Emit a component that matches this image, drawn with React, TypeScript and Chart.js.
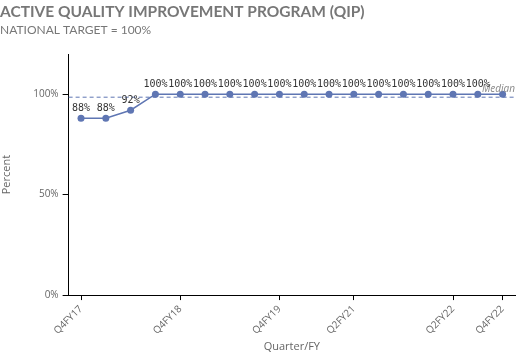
import React, { useEffect, useRef } from "react";
import { Chart, registerables } from "chart.js";
Chart.register(...registerables);

const quarters = [
  "Q4FY17", "Q1FY18", "Q2FY18", "Q3FY18", "Q4FY18", "Q1FY19", "Q2FY19", "Q3FY19", "Q4FY19",
  "Q4FY20", "Q1FY21", "Q2FY21", "Q3FY21", "Q4FY21", "Q1FY22", "Q2FY22", "Q3FY22", "Q4FY22",
];
const percentValues = [88, 88, 92, 100, 100, 100, 100, 100, 100, 100, 100, 100, 100, 100, 100, 100, 100, 100];
const shownTickLabels = ["Q4FY17", "Q4FY18", "Q4FY19", "Q2FY21", "Q2FY22", "Q4FY22"];
const yTickValues = [0, 50, 100];
const medianValue = 98.5;

const LINE_COLOR = "#5f76b3";

const overlayPlugin = {
  id: "overlay",
  afterDatasetsDraw(chart: any) {
    const ctx = chart.ctx;
    const { left, right } = chart.chartArea;
    const y = chart.scales.y.getPixelForValue(medianValue);
    ctx.save();
    ctx.strokeStyle = LINE_COLOR;
    ctx.lineWidth = 1;
    ctx.setLineDash([4, 3]);
    ctx.beginPath();
    ctx.moveTo(left, y);
    ctx.lineTo(right, y);
    ctx.stroke();
    ctx.setLineDash([]);
    ctx.font = "italic 10px 'Open Sans', sans-serif";
    ctx.fillStyle = "#888";
    ctx.textAlign = "right";
    ctx.textBaseline = "bottom";
    ctx.fillText("Median", right, y - 3);

    const meta = chart.getDatasetMeta(0);
    ctx.font = "10px 'DejaVu Sans Mono', monospace";
    ctx.fillStyle = "#333";
    ctx.textAlign = "center";
    ctx.textBaseline = "bottom";
    meta.data.forEach((pt: any, i: number) => {
      if (i === meta.data.length - 1) return;
      ctx.fillText(percentValues[i] + "%", pt.x, pt.y - 5);
    });
    ctx.restore();
  },
};

export default function App() {
  const ref = useRef<HTMLCanvasElement>(null);
  useEffect(() => {
    const chart = new Chart(ref.current!, {
      type: "line",
      data: {
        labels: quarters,
        datasets: [
          {
            data: percentValues,
            borderColor: LINE_COLOR,
            backgroundColor: LINE_COLOR,
            borderWidth: 1.5,
            pointRadius: 3.5,
            pointBackgroundColor: LINE_COLOR,
            pointBorderWidth: 0,
            tension: 0,
          },
        ],
      },
      plugins: [overlayPlugin],
      options: {
        animation: false,
        responsive: false,
        layout: { padding: { left: 0, right: 5, top: 0, bottom: 7 } },
        plugins: {
          legend: { display: false },
          tooltip: { enabled: false },
          title: {
            display: true,
            text: "ACTIVE QUALITY IMPROVEMENT PROGRAM (QIP)",
            align: "start",
            color: "#777",
            font: { family: "Lato, sans-serif", size: 15.5, weight: "bold" },
            padding: { top: 3, bottom: 1 },
          },
          subtitle: {
            display: true,
            text: "NATIONAL TARGET = 100%",
            align: "start",
            color: "#777",
            font: { family: "Lato, sans-serif", size: 12 },
            padding: { top: 0, bottom: 17 },
          },
        },
        scales: {
          x: {
            offset: true,
            border: { display: true, color: "#000", width: 1 },
            grid: { display: true, drawOnChartArea: false, drawTicks: true, tickLength: 5, color: "#000" },
            title: {
              display: true,
              text: "Quarter/FY",
              color: "#666",
              font: { family: "'Open Sans', sans-serif", size: 11 },
              padding: { top: 0, bottom: 0 },
            },
            ticks: {
              autoSkip: false,
              minRotation: 45,
              maxRotation: 45,
              color: "#666",
              font: { family: "'Open Sans', sans-serif", size: 10 },
              callback: (_v: any, i: number) =>
                shownTickLabels.includes(quarters[i]) ? quarters[i] : null,
            },
          },
          y: {
            min: 0,
            max: 120,
            afterBuildTicks: (axis: any) => {
              axis.ticks = yTickValues.map((v) => ({ value: v }));
            },
            border: { display: true, color: "#000", width: 1 },
            grid: { display: true, drawOnChartArea: false, drawTicks: true, tickLength: 6, color: "#000" },
            title: {
              display: true,
              text: "Percent",
              color: "#666",
              font: { family: "'Open Sans', sans-serif", size: 11 },
              padding: { top: 0, bottom: 16 },
            },
            ticks: {
              padding: 4,
              color: "#666",
              font: { family: "'Open Sans', sans-serif", size: 10 },
              callback: (v: any) => v + "%",
            },
          },
        },
      },
    });
    return () => chart.destroy();
  }, []);
  return (
    <div style={{ position: "fixed", left: 0, top: 0, width: 520, height: 360, background: "#fff" }}>
      <canvas ref={ref} width={520} height={360} />
    </div>
  );
}
